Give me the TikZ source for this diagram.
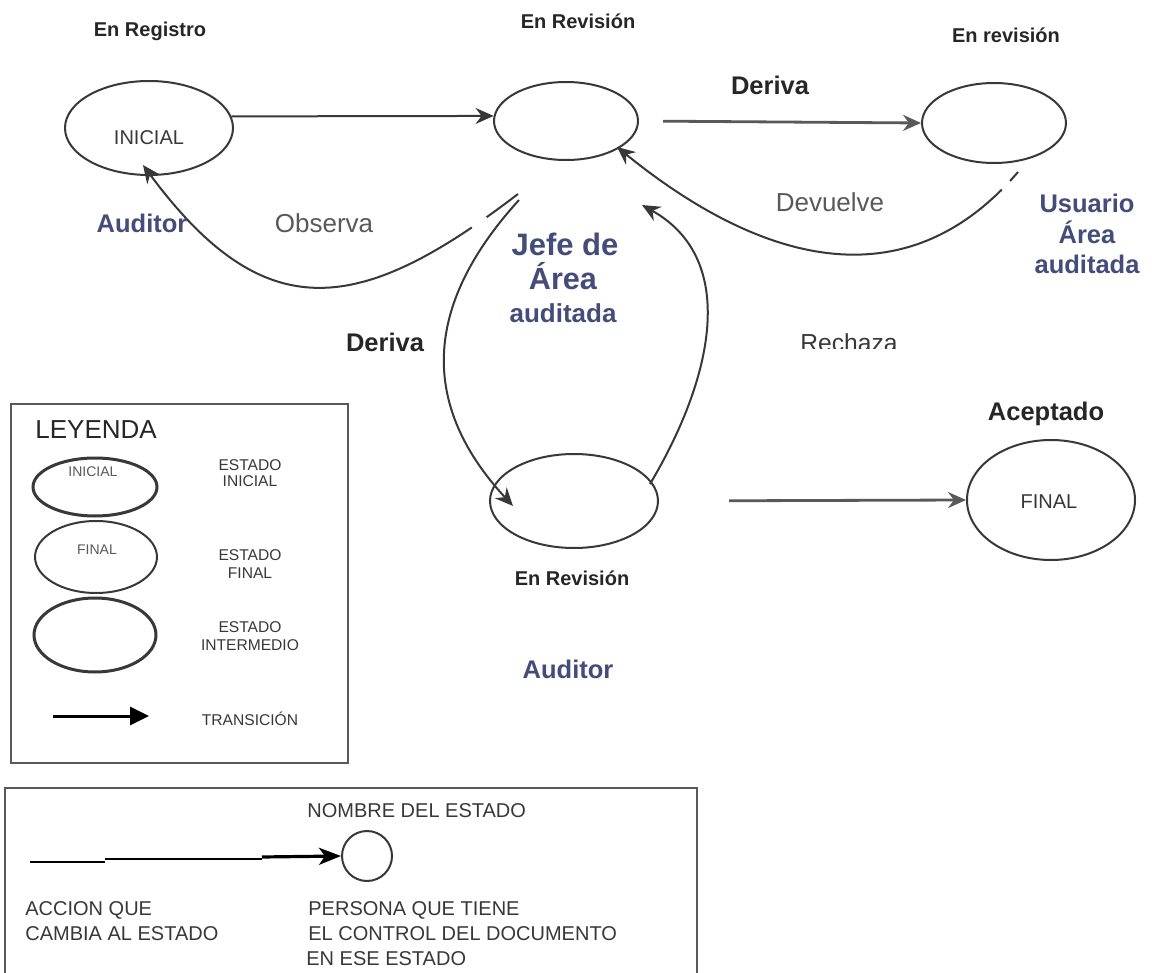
\documentclass[tikz,border=0pt]{standalone}
\usepackage{fontspec}
\setmainfont{Liberation Sans}
\usetikzlibrary{arrows.meta,shapes.geometric,calc}
\definecolor{ink}{HTML}{262626}
\definecolor{stroke}{HTML}{383838}
\definecolor{soft}{HTML}{595959}
\definecolor{actorblue}{RGB}{68,76,122}
\definecolor{frame}{HTML}{5A5A5A}
\begin{document}
\begin{tikzpicture}[x=0.5pt,y=-0.5pt,
  stnode/.style={ellipse,draw=stroke,line width=1pt,inner sep=0pt},
  tip/.style={-{Stealth[length=9pt,width=8pt,inset=3pt]}},
  flow/.style={tip,draw=stroke,line width=1pt},
  flowgray/.style={tip,draw=soft,line width=1.4pt},
  txt/.style={inner sep=0pt,anchor=base},
  statename/.style={txt,font=\bfseries\fontsize{10}{12}\selectfont,text=ink},
  action/.style={txt,font=\bfseries\fontsize{12.75}{15}\selectfont,text=ink},
  remark/.style={txt,font=\fontsize{13}{15}\selectfont,text=soft},
  who/.style={txt,font=\bfseries\fontsize{12.75}{15}\selectfont,text=actorblue},
  inside/.style={txt,font=\fontsize{10}{12}\selectfont,text=stroke},
  legtext/.style={txt,font=\fontsize{7.8}{9}\selectfont,text=stroke},
  keytext/.style={inner sep=0pt,anchor=base west,font=\fontsize{10}{12}\selectfont,text=stroke},
]
\clip (0,0) rectangle (1152,973);
\fill[white] (0,0) rectangle (1152,973);

% ---------- states ----------
\node[stnode, minimum width=84pt, minimum height=47pt] (ini) at (149,128) {};
\node[inside] (iniT) at (149,145) {INICIAL};
\node[statename] (iniN) at (150,37) {En Registro};

\node[stnode, minimum width=72pt, minimum height=39pt] (rev1) at (566,121) {};
\node[statename] (rev1N) at (578,29) {En Revisión};

\node[stnode, minimum width=72pt, minimum height=40pt] (rev2) at (994,123) {};
\node[statename] (rev2N) at (1006,42.5) {En revisión};

\node[stnode, minimum width=84pt, minimum height=47pt] (rev3) at (574,501) {};
\node[statename] (rev3N) at (572,585) {En Revisión};

\node[stnode, minimum width=84pt, minimum height=60pt] (fin) at (1051,500) {};
\node[inside] (finT) at (1049,508) {FINAL};
\node[action] (finN) at (1046,420.5) {Aceptado};

% ---------- transitions ----------
\draw[flow] (ini.8) -- (rev1.176);
\draw[flowgray, shorten <=12pt] (rev1.east) -- (rev2.west);
\draw[flowgray, shorten <=35pt] (rev3.east) -- (fin.west);

% Observa: back to the initial state
\draw[flow, dash pattern=on 19.5pt off 9pt on 2000pt]
  ($(rev1.center)+(-48,73)$) .. controls (360,315) and (265,330) .. ($(ini.center)+(-6,37)$);
% Deriva: down to the lower review
\draw[flow]
  ($(rev1.center)+(-47,79)$) .. controls (428,300) and (415,400) .. ($(rev3.center)+(-61,5)$);
% Rechaza: back up from the lower review
\draw[flow]
  ($(rev3.center)+(76,-17)$) .. controls (712,380) and (740,260) .. ($(rev1.center)+(76,84)$);
% Devuelve: back from the audited area user
\draw[flow, dash pattern=on 6pt off 6pt on 2000pt]
  ($(rev2.center)+(24,49)$) .. controls (900,310) and (750,255) .. ($(rev1.center)+(51,26)$);

% ---------- labels ----------
\node[action] (lDeriva1) at (770,95) {Deriva};
\node[action] (lDeriva2) at (385,351.5) {Deriva};
\node[remark] (lObserva) at (324,233) {Observa};
\node[remark] (lDevuelve) at (830,212) {Devuelve};
\begin{scope}
  \clip (780,320) rectangle (930,349);
  \node[txt, anchor=base west, font=\fontsize{12.3}{15}\selectfont, text=stroke] (lRechaza) at (800,352) {Rechaza};
\end{scope}

\node[who] (aud1) at (142,233) {Auditor};
\node[who] (aud2) at (568,678) {Auditor};
\node[who] (usr1) at (1087,213) {Usuario};
\node[who] (usr2) at (1087,243.5) {Área};
\node[who] (usr3) at (1087,274) {auditada};
\node[txt, font=\bfseries\fontsize{15.5}{18}\selectfont, text=actorblue] (jefe1) at (565,256) {Jefe de};
\node[txt, font=\bfseries\fontsize{15.3}{18}\selectfont, text=actorblue] (jefe2) at (563,290) {Área};
\node[txt, font=\bfseries\fontsize{13}{15}\selectfont, text=actorblue] (jefe3) at (563,323) {auditada};

% ---------- legend ----------
\draw[frame, line width=1.3pt] (11,404) rectangle (348,763);
\node[txt, anchor=base west, font=\fontsize{13}{15}\selectfont, text=ink] (legT) at (35,438) {LEYENDA};

\node[stnode, line width=1.5pt, minimum width=62pt, minimum height=29pt] (legIni) at (95,487) {};
\node[legtext, text=soft, font=\fontsize{7}{8}\selectfont] (legIniT) at (93,476) {INICIAL};
\node[stnode, minimum width=61pt, minimum height=36pt] (legFin) at (96,557) {};
\node[legtext, text=soft, font=\fontsize{7}{8}\selectfont] (legFinT) at (97,554) {FINAL};
\node[stnode, line width=1.5pt, minimum width=61pt, minimum height=37pt] (legMid) at (95,635) {};

\coordinate (legA) at (53,716);
\coordinate (legB) at (149,716);
\draw[stroke, line width=1.5pt, -{Triangle[length=9.5pt,width=9pt]}] (legA) -- (legB);

\node[legtext] (lg1a) at (250,470) {ESTADO};
\node[legtext] (lg1b) at (250,486.5) {INICIAL};
\node[legtext] (lg2a) at (250,560) {ESTADO};
\node[legtext] (lg2b) at (250,578) {FINAL};
\node[legtext] (lg3a) at (250,632.5) {ESTADO};
\node[legtext] (lg3b) at (250,650.5) {INTERMEDIO};
\node[legtext] (lg4) at (250,725) {TRANSICIÓN};

% ---------- key to the notation ----------
\draw[frame, line width=1.4pt] (5,788) rectangle (697,1000);
\node[keytext] (kName) at (307,817) {NOMBRE DEL ESTADO};
\node[circle, draw=stroke, line width=1pt, minimum size=25pt, inner sep=0pt] (kc) at (367,856) {};
\coordinate (k1) at (30,862);
\coordinate (k2) at (105,862);
\coordinate (k3) at (105,859);
\coordinate (k4) at (262,859);
\coordinate (k5) at (262,857);
\draw[stroke, line width=1pt] (k1) -- (k2);
\draw[stroke, line width=1pt] (k3) -- (k4);
\draw[stroke, line width=1.6pt, -{Stealth[length=11pt,width=8.5pt,inset=3pt]}] (k5) -- (kc.west);
\node[keytext] (kAct1) at (25,915) {ACCION QUE};
\node[keytext] (kAct2) at (25,940) {CAMBIA AL ESTADO};
\node[keytext] (kPer1) at (308,915) {PERSONA QUE TIENE};
\node[keytext] (kPer2) at (308,940.5) {EL CONTROL DEL DOCUMENTO};
\node[keytext] (kPer3) at (306,965) {EN ESE ESTADO};
\end{tikzpicture}
\end{document}
